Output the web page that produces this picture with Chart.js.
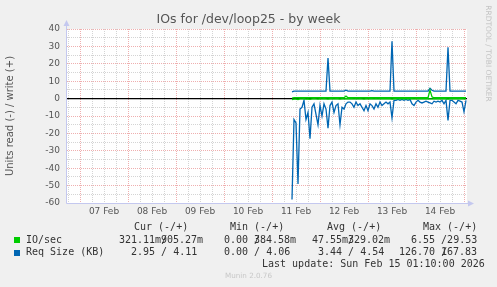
<!DOCTYPE html>
<html>
<head>
<meta charset="utf-8">
<title>IOs for /dev/loop25 - by week</title>
<script src="https://cdn.jsdelivr.net/npm/chart.js@4.4.1/dist/chart.umd.min.js"></script>
<style>
  html, body { margin: 0; padding: 0; background: #f0f0f0; }
  #wrap { position: relative; width: 497px; height: 287px; overflow: hidden; font-family: 'DejaVu Sans', sans-serif; }
  #chart { position: absolute; left: 0; top: 0; }
  .t { position: absolute; white-space: pre; }
  .title { left: 0; width: 497px; top: 11px; text-align: center; font-size: 12.5px; line-height: 16px; color: #555; }
  .ytitle { left: -90px; width: 200px; top: 109px; text-align: center; font-size: 10px; line-height: 14px; color: #555; transform: rotate(-90deg); }
  .rrd { left: 428px; width: 121px; top: 49px; text-align: center; font-size: 7.5px; line-height: 9px; color: #c4c4c4; transform: rotate(90deg); }
  .mono { font-family: 'DejaVu Sans Mono', monospace; font-size: 10px; line-height: 12px; color: #333; }
  .sw { position: absolute; width: 6px; height: 6px; }
  .munin { left: 0; width: 497px; text-align: center; top: 271px; font-size: 7.2px; line-height: 10px; color: #c8c8c8; }
</style>
</head>
<body>
<div id="wrap">
  <canvas id="chart" width="497" height="287"></canvas>
  <div class="t title">IOs for /dev/loop25 - by week</div>
  <div class="t ytitle">Units read (-) / write (+)</div>
  <div class="t rrd">RRDTOOL / TOBI OETIKER</div>

  <div class="t mono" style="left:134px;top:221px">Cur (-/+)</div>
  <div class="t mono" style="left:230px;top:221px">Min (-/+)</div>
  <div class="t mono" style="left:327px;top:221px">Avg (-/+)</div>
  <div class="t mono" style="left:423px;top:221px">Max (-/+)</div>

  <div class="sw" style="left:14px;top:237px;background:#00cc00"></div>
  <div class="t mono" style="left:26px;top:233.5px">IO/sec</div>
  <div class="t mono" style="left:119px;top:233.5px">321.11m/</div>
  <div class="t mono" style="left:161px;top:233.5px">905.27m</div>
  <div class="t mono" style="left:224px;top:233.5px">0.00 /</div>
  <div class="t mono" style="left:254px;top:233.5px">384.58m</div>
  <div class="t mono" style="left:312px;top:233.5px">47.55m/</div>
  <div class="t mono" style="left:348px;top:233.5px">329.02m</div>
  <div class="t mono" style="left:411px;top:233.5px">6.55 /29.53</div>

  <div class="sw" style="left:14px;top:249.5px;background:#0066b3"></div>
  <div class="t mono" style="left:26px;top:246px">Req Size (KB)</div>
  <div class="t mono" style="left:131px;top:246px">2.95 / 4.11</div>
  <div class="t mono" style="left:224px;top:246px">0.00 / 4.06</div>
  <div class="t mono" style="left:318px;top:246px">3.44 / 4.54</div>
  <div class="t mono" style="left:399px;top:246px">126.70 /</div>
  <div class="t mono" style="left:441px;top:246px">167.83</div>

  <div class="t mono" style="left:262px;top:257.5px">Last update: Sun Feb 15 01:10:00 2026</div>
  <div class="t munin">Munin 2.0.76</div>
</div>
<script>
(function () {
  'use strict';

  var GREEN = '#00cc00', BLUE = '#0066b3', AXIS = '#c4c8ef',
      MAJOR = 'rgba(225,110,110,0.55)', MINOR = 'rgba(170,170,170,0.5)', TXT = '#555';

  // x axis: hours after 07 Feb 00:00, window of 200 h ending Sun 15 Feb 01:10
  var X_MIN = -6.5, X_MAX = 193.5;
  var DAY_LABELS = ['07 Feb', '08 Feb', '09 Feb', '10 Feb', '11 Feb', '12 Feb', '13 Feb', '14 Feb'];
  var Y_MIN = -60, Y_MAX = 40;

  // samples: one per hour, first one at 11 Feb 10:00 (hour 106)
  var SAMPLE_START = 106;

  var IO_READ = [
    -0.6, -0.3, -0.3, -0.5, -0.2, -0.2, -0.1, -0.3, -0.2, -0.4,
    -0.2, -0.1, -0.2, -0.3, -0.1, -0.2, -0.1, -0.2, -0.3, -0.1,
    -0.1, -0.2, -0.1, -0.1, -0.3, -0.1, -0.2, -0.1, -0.1, -0.1,
    -0.1, -0.2, -0.1, -0.2, -0.1, -0.2, -0.3, -0.1, -0.2, -0.1,
    -0.1, -0.2, -0.1, -0.2, -0.1, -0.1, -0.1, -0.1, -0.1, -0.1,
    -0.3, -0.1, -0.1, -0.1, -0.1, -0.1, -0.1, -0.1, -0.1, -0.1,
    -0.1, -0.2, -0.1, -0.1, -0.1, -0.1, -0.1, -0.1, -0.1, -0.2,
    -0.2, -0.1, -0.1, -0.1, -0.1, -0.1, -0.1, -0.1, -0.3, -0.1,
    -0.1, -0.1, -0.1, -0.1, -0.1, -0.1, -0.2, -0.1
  ];
  var IO_WRITE = [
    0.3, 0.5, 0.5, 0.5, 0.5, 0.5, 0.5, 0.5, 0.5, 0.5,
    0.5, 0.5, 0.5, 0.5, 0.5, 0.5, 0.5, 0.5, 0.5, 0.5,
    0.5, 0.5, 0.5, 0.5, 0.5, 0.5, 0.5, 1.5, 0.5, 0.5,
    0.5, 0.5, 0.5, 0.5, 0.5, 0.5, 0.5, 0.5, 0.5, 0.5,
    0.5, 0.5, 0.5, 0.5, 0.5, 0.5, 0.5, 0.5, 0.5, 0.5,
    0.6, 0.5, 0.5, 0.5, 0.5, 0.5, 0.5, 0.5, 0.5, 0.5,
    0.5, 0.5, 0.5, 0.5, 0.5, 0.5, 0.5, 0.5, 0.5, 4.9,
    1.0, 0.5, 0.5, 0.5, 0.5, 0.5, 0.5, 0.5, 0.5, 0.5,
    0.5, 0.5, 0.5, 0.5, 0.5, 0.5, 0.5, 0.5
  ];
  var REQ_READ = [
    -58, -12, -14, -49, -6, -5, -1, -12, -8, -23,
    -5, -3, -9, -15, -4, -10, -3, -6, -17, -4,
    -2, -8, -4, -3, -15, -5, -6, -3, -2, -2,
    -3, -5, -2, -4, -3, -5, -7, -4, -7, -3,
    -4, -6, -3, -5, -2, -4, -3, -2, -3, -2,
    -11, -1, -1, -0.5, -1, -0.5, -1, -0.5, -1, -0.5,
    -3, -4, -2, -1, -2, -2.5, -2, -1.5, -2, -2.5,
    -3, -1.5, -2, -1.5, -2, -1, -3, -1, -12.5, -1,
    -1, -2, -3, -1, -1.5, -2, -7.6, -1
  ];
  var REQ_WRITE = [
    3.9, 4.3, 4.3, 4.3, 4.3, 4.3, 4.3, 4.3, 4.3, 4.3,
    4.3, 4.3, 4.3, 4.3, 4.3, 4.3, 4.3, 4.3, 23.3, 4.3,
    4.3, 4.3, 4.3, 4.3, 4.3, 4.3, 4.3, 4.8, 4.3, 4.3,
    4.3, 4.3, 4.3, 4.3, 4.3, 4.3, 4.3, 4.3, 4.3, 4.3,
    4.6, 4.3, 4.3, 4.3, 4.3, 4.3, 4.3, 4.3, 4.3, 4.3,
    33, 4.3, 4.3, 4.3, 4.3, 4.3, 4.3, 4.3, 4.3, 4.3,
    4.3, 4.3, 4.3, 4.3, 4.3, 4.3, 4.3, 4.3, 4.3, 5.9,
    4.8, 4.3, 4.3, 4.3, 4.3, 4.3, 4.3, 4.3, 29.5, 4.3,
    4.3, 4.3, 4.3, 4.3, 4.3, 4.3, 4.3, 4.3
  ];

  function points(vals) {
    return vals.map(function (v, i) { return { x: SAMPLE_START + i, y: v }; });
  }

  function series(vals, color) {
    return { data: points(vals), borderColor: color, borderWidth: 1.3, pointRadius: 0, tension: 0, fill: false };
  }

  /* white plot area, black zero rule, axes with arrows */
  var frame = {
    id: 'frame',
    beforeDraw: function (chart) {
      var c = chart.ctx, a = chart.chartArea;
      c.save();
      c.fillStyle = '#fff';
      c.fillRect(a.left, a.top, a.right - a.left, a.bottom - a.top);
      c.restore();
    },
    beforeDatasetsDraw: function (chart) {
      var c = chart.ctx, a = chart.chartArea, y0 = chart.scales.y.getPixelForValue(0);
      c.save();
      c.strokeStyle = '#000'; c.lineWidth = 1.3;
      c.beginPath(); c.moveTo(a.left, y0); c.lineTo(a.right, y0); c.stroke();
      c.restore();
    },
    afterDraw: function (chart) {
      var c = chart.ctx, a = chart.chartArea;
      var lx = Math.round(a.left) - 0.5, by = Math.round(a.bottom) + 0.5;
      c.save();
      c.strokeStyle = AXIS; c.fillStyle = AXIS; c.lineWidth = 1;
      c.beginPath();
      c.moveTo(lx, by); c.lineTo(lx, a.top - 6);
      c.moveTo(lx, by); c.lineTo(a.right + 4, by);
      c.stroke();
      c.beginPath();
      c.moveTo(lx, a.top - 9); c.lineTo(lx - 3, a.top - 3); c.lineTo(lx + 3, a.top - 3); c.closePath(); c.fill();
      c.beginPath();
      c.moveTo(a.right + 7, by); c.lineTo(a.right + 1, by - 3); c.lineTo(a.right + 1, by + 3); c.closePath(); c.fill();
      c.restore();
    }
  };

  function draw() {
    Chart.defaults.font.family = "'DejaVu Sans', sans-serif";
    Chart.defaults.color = TXT;

    new Chart(document.getElementById('chart'), {
      type: 'line',
      data: {
        datasets: [
          series(IO_WRITE, GREEN),
          series(IO_READ, GREEN),
          series(REQ_WRITE, BLUE),
          series(REQ_READ, BLUE)
        ]
      },
      options: {
        responsive: false, animation: false, devicePixelRatio: 1,
        layout: { padding: { top: 29, right: 30, bottom: 64, left: 0 } },
        plugins: { legend: { display: false }, tooltip: { enabled: false } },
        scales: {
          x: {
            type: 'linear', min: X_MIN, max: X_MAX,
            afterFit: function (s) { s.height = 20; },
            ticks: {
              stepSize: 6, includeBounds: false, autoSkip: false, maxRotation: 0, padding: 3,
              font: { size: 9 }, color: TXT,
              callback: function (v) {
                return ((v % 24) + 24) % 24 === 12 ? DAY_LABELS[Math.floor(v / 24)] : '';
              }
            },
            grid: {
              drawTicks: false, lineWidth: 1,
              color: function (ctx) { return ctx.tick && ctx.tick.value % 24 === 0 ? MAJOR : MINOR; }
            },
            border: { display: false, dash: [1, 1] }
          },
          y: {
            min: Y_MIN, max: Y_MAX,
            afterFit: function (s) { s.width = 67; },
            ticks: {
              stepSize: 5, autoSkip: false, padding: 7, font: { size: 9 }, color: TXT,
              callback: function (v) { return v % 10 === 0 ? String(v) : ''; }
            },
            grid: {
              drawTicks: false, lineWidth: 1,
              color: function (ctx) { return ctx.tick && ctx.tick.value % 10 === 0 ? MAJOR : MINOR; }
            },
            border: { display: false, dash: [1, 1] }
          }
        }
      },
      plugins: [frame]
    });
  }

  if (document.readyState === 'loading') document.addEventListener('DOMContentLoaded', draw);
  else draw();
})();
</script>
</body>
</html>
